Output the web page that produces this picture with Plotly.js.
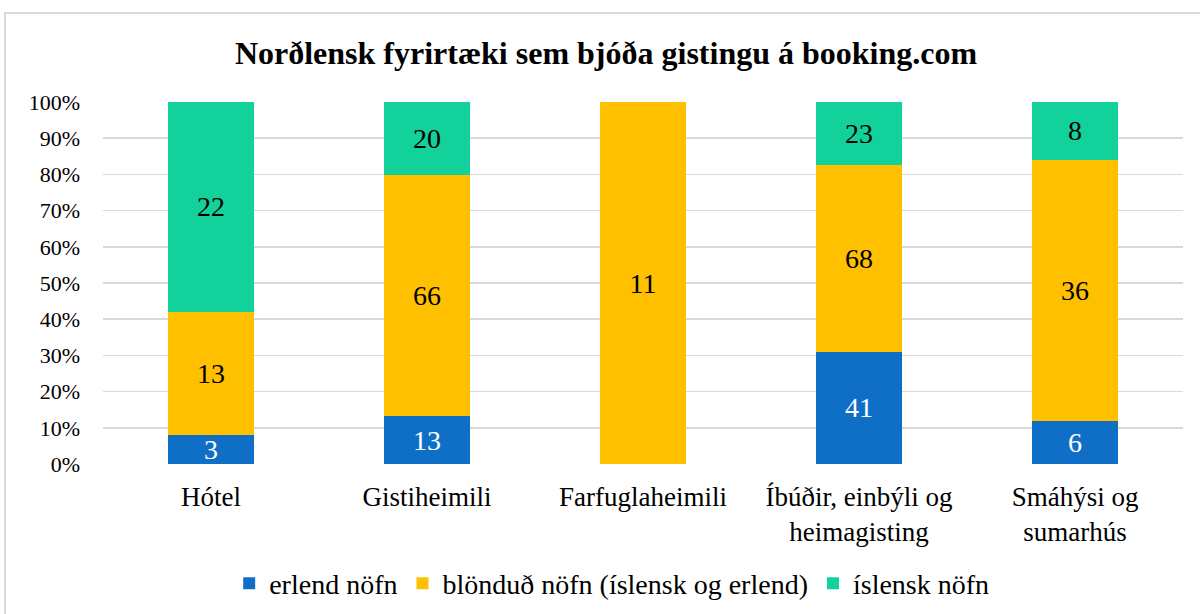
<!DOCTYPE html>
<html>
<head>
<meta charset="utf-8">
<script src="https://cdn.plot.ly/plotly-3.0.1.min.js"></script>
<style>
html,body{margin:0;padding:0;background:#fff;overflow:hidden;width:1200px;height:614px;}
#box{position:absolute;left:4px;top:12px;width:1200px;height:604px;border:2px solid #d9d9d9;background:#fff;}
#chart{width:1200px;height:604px;}
</style>
</head>
<body>
<div id="box"><div id="chart"></div></div>
<script>
const categories = ["Hótel", "Gistiheimili", "Farfuglaheimili", "Íbúðir, einbýli og<br>heimagisting", "Smáhýsi og<br>sumarhús"];
const seriesNames = ["erlend nöfn", "blönduð nöfn (íslensk og erlend)", "íslensk nöfn"];
const erlend = [3, 13, 0, 41, 6];
const blondud = [13, 66, 11, 68, 36];
const islensk = [22, 20, 0, 23, 8];
const colors = ["#0F6FC6", "#FFC000", "#13D19B"];
const textColors = ["#ffffff", "#000000", "#000000"];

const font = "Liberation Serif, Times New Roman, serif";
const allSeries = [erlend, blondud, islensk];
const traces = allSeries.map((vals, i) => ({
  type: "bar",
  name: seriesNames[i],
  x: categories,
  y: vals,
  text: vals.map(v => v ? String(v) : ""),
  textposition: "inside",
  insidetextanchor: "middle",
  constraintext: "none",
  textangle: 0,
  textfont: {family: font, size: 28, color: textColors[i]},
  marker: {color: colors[i]},
  hoverinfo: "skip"
}));

const layout = {
  width: 1200, height: 604,
  barmode: "stack",
  barnorm: "percent",
  bargap: 0.6,
  margin: {l: 97, r: 23, t: 88, b: 154, autoexpand: false},
  paper_bgcolor: "#fff",
  plot_bgcolor: "#fff",
  font: {family: font, color: "#000"},
  title: {text: "<b>Norðlensk fyrirtæki sem bjóða gistingu á booking.com</b>", font: {family: font, size: 32, color: "#000"}, x: 0.5, xanchor: "center", y: 0.935, yanchor: "middle"},
  xaxis: {tickfont: {family: font, size: 27, color: "#000"}, ticks: "", showgrid: false, zeroline: false, showline: false, ticklabelstandoff: 14},
  yaxis: {range: [0, 100], dtick: 10, ticksuffix: "%", tickfont: {family: font, size: 22, color: "#000"}, gridcolor: "#d9d9d9", gridwidth: 1.5, zeroline: false, showline: false, ticks: "", ticklabelstandoff: 22},
  legend: {orientation: "h", x: 0.471, xanchor: "center", y: -0.33, yanchor: "middle", font: {family: font, size: 28, color: "#000"}, itemwidth: 30, traceorder: "normal"},
  showlegend: true
};
Plotly.newPlot("chart", traces, layout, {displayModeBar: false, staticPlot: true});
</script>
</body>
</html>
